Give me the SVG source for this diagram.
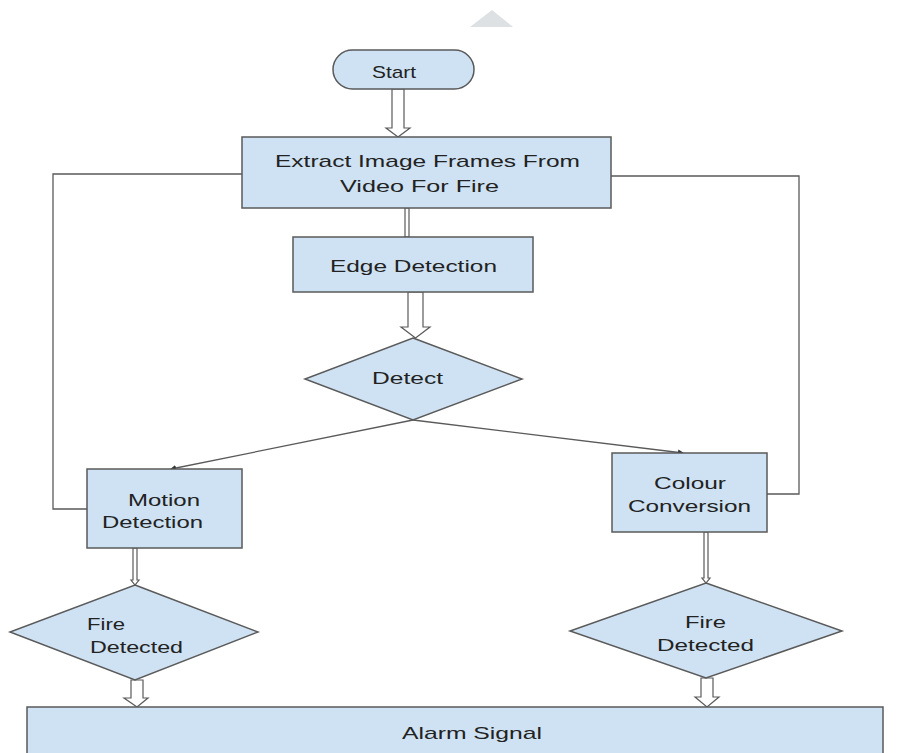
<svg xmlns="http://www.w3.org/2000/svg" width="904" height="753" viewBox="0 0 904 753">
<style>
.n{fill:#cfe2f3;stroke:#5a5a5a;stroke-width:1.5}
.t{font-family:"Liberation Sans",Arial,sans-serif;font-size:17px;fill:#222;text-anchor:middle}
.tl{font-family:"Liberation Sans",Arial,sans-serif;font-size:17px;fill:#222}
.c{fill:none;stroke:#5a5a5a;stroke-width:1.3}
.h{fill:#fff;stroke:#5a5a5a;stroke-width:1.2}
</style>
<defs>
<marker id="ah" markerWidth="6" markerHeight="6" refX="5" refY="3" orient="auto" markerUnits="userSpaceOnUse">
<path d="M0,0 L6,3 L0,6 Z" fill="#333"/>
</marker>
</defs>
<rect width="904" height="753" fill="#fff"/>
<polygon points="470,27 492,10 513,27" fill="#dde1e4"/>
<g id="connectors">
<path class="h" d="M392,89 V128 H386 L398,137 L410,128 H404 V89 Z"/>
<path class="h" d="M405,208 V237 H409 V208 Z"/>
<path class="h" d="M408,292 V327 H401 L415.5,338 L430,327 H423 V292 Z"/>
<path class="c" d="M413,420 L171,469" marker-end="url(#ah)"/>
<path class="c" d="M413,420 L683,453" marker-end="url(#ah)"/>
<path class="c" d="M242,174 H53 V509 H87"/>
<path class="c" d="M611,176 H799 V494 H767"/>
<path class="h" d="M133,548 V580 H131 L135,585 L139,580 H137 V548 Z"/>
<path class="h" d="M704,532 V578 H702 L706,583 L710,578 H708 V532 Z"/>
<path class="h" d="M131,680 V698 H124 L137,707 L148,698 H143 V680 Z"/>
<path class="h" d="M701,678 V697 H695 L707,707 L719,697 H713 V678 Z"/>
</g>
<g id="start">
<rect class="n" x="333" y="50" width="141" height="39" rx="19.5"/>
<text class="t" x="394" y="78" textLength="44" lengthAdjust="spacingAndGlyphs">Start</text>
</g>
<g id="extract">
<rect class="n" x="242" y="137" width="369" height="71"/>
<text class="t" x="427.5" y="167" textLength="305" lengthAdjust="spacingAndGlyphs">Extract Image Frames From</text>
<text class="t" x="419.5" y="192" textLength="159" lengthAdjust="spacingAndGlyphs">Video For Fire</text>
</g>
<g id="edge">
<rect class="n" x="293" y="237" width="240" height="55"/>
<text class="t" x="413.5" y="272" textLength="167" lengthAdjust="spacingAndGlyphs">Edge Detection</text>
</g>
<g id="detect">
<polygon class="n" points="413,338 522,379 413,420 305,379"/>
<text class="t" x="407.5" y="384" textLength="71" lengthAdjust="spacingAndGlyphs">Detect</text>
</g>
<g id="motion">
<rect class="n" x="87" y="469" width="155" height="79"/>
<text class="t" x="164" y="506" textLength="72" lengthAdjust="spacingAndGlyphs">Motion</text>
<text class="t" x="152.5" y="528" textLength="101" lengthAdjust="spacingAndGlyphs">Detection</text>
</g>
<g id="colour">
<rect class="n" x="612" y="453" width="155" height="79"/>
<text class="t" x="690" y="489" textLength="72" lengthAdjust="spacingAndGlyphs">Colour</text>
<text class="t" x="689.5" y="512" textLength="123" lengthAdjust="spacingAndGlyphs">Conversion</text>
</g>
<g id="fire-left">
<polygon class="n" points="135,585 258,632 135,680 10,632"/>
<text class="tl" x="87" y="630" textLength="38" lengthAdjust="spacingAndGlyphs">Fire</text>
<text class="tl" x="90" y="653" textLength="93" lengthAdjust="spacingAndGlyphs">Detected</text>
</g>
<g id="fire-right">
<polygon class="n" points="706,583 842,631 706,678 570,631"/>
<text class="t" x="705.5" y="628" textLength="41" lengthAdjust="spacingAndGlyphs">Fire</text>
<text class="t" x="705.5" y="651" textLength="97" lengthAdjust="spacingAndGlyphs">Detected</text>
</g>
<g id="alarm">
<rect class="n" x="27" y="707" width="856" height="60"/>
<text class="t" x="472" y="739" textLength="140" lengthAdjust="spacingAndGlyphs">Alarm Signal</text>
</g>
</svg>
